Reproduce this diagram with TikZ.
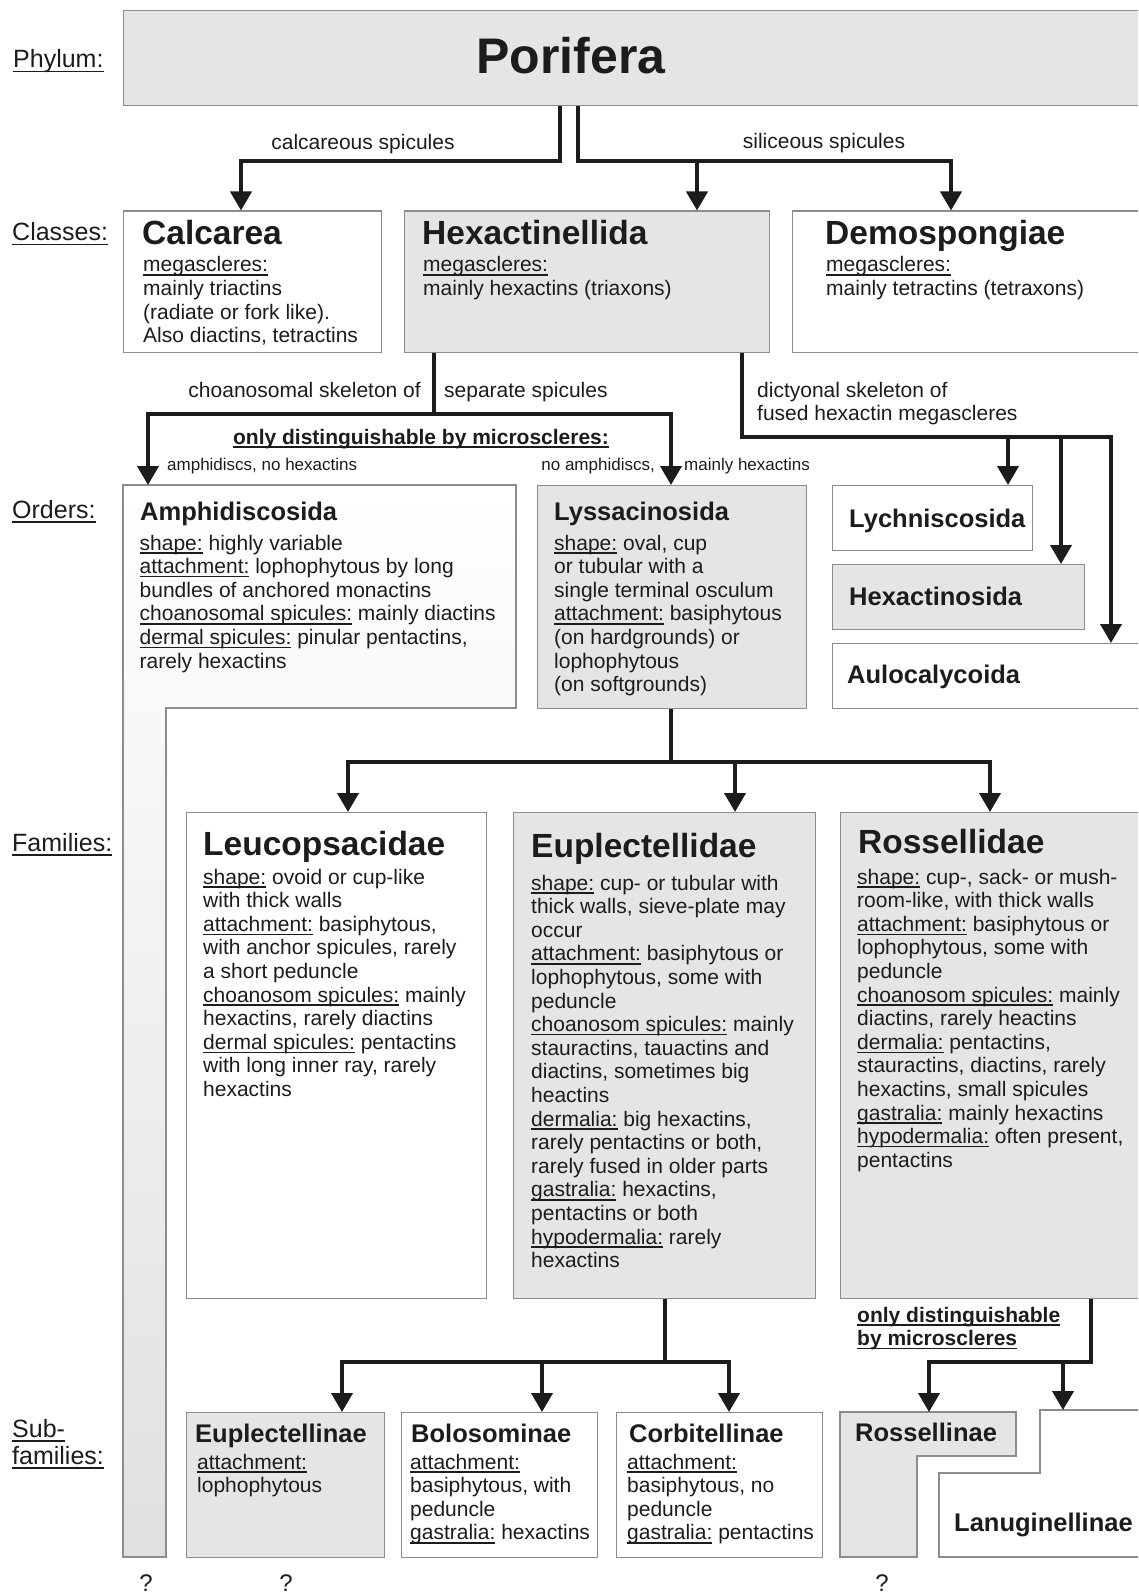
\documentclass[tikz,border=0pt]{standalone}
\usepackage{fontspec}
\setmainfont{Liberation Sans}
\usetikzlibrary{arrows.meta}

\definecolor{ink}{HTML}{1C1C1C}
\definecolor{edge}{HTML}{8C8C8C}
\definecolor{boxgray}{HTML}{E5E5E5}

% underline at a fixed depth below the baseline
\newsavebox\ulbox
\newcommand\ulin[1]{\sbox\ulbox{#1}\rlap{\vrule height -0.11em depth 0.18em width \wd\ulbox}\usebox\ulbox}
% several left-aligned lines, baseline on the first one
\newcommand\txtlines[1]{\begin{tabular}[t]{@{}l@{}}#1\end{tabular}}

\newcommand\fsTop{\fontsize{50}{56}\bfseries\selectfont}
\newcommand\fsTitle{\fontsize{33.5}{38}\bfseries\selectfont}
\newcommand\fsOrder{\fontsize{25.5}{29}\bfseries\selectfont}
\newcommand\fsBody{\fontsize{21}{23.6}\selectfont}
\newcommand\fsBold{\fontsize{21}{23.6}\bfseries\selectfont}
\newcommand\fsSmall{\fontsize{17}{20}\selectfont}
\newcommand\fsLabel{\fontsize{25}{28}\selectfont}
\newcommand\fsQ{\fontsize{24}{28}\selectfont}

\begin{document}
\begin{tikzpicture}[x=1pt,y=-1pt,
  every node/.style={inner sep=0pt, text=ink},
  wbox/.style={draw=edge, line width=1.3pt, fill=white, anchor=north west, inner sep=0pt},
  gbox/.style={wbox, fill=boxgray},
  shapeline/.style={draw=edge, line width=1.3pt, line join=miter},
  link/.style={draw=ink, line width=4pt, line join=miter, line cap=butt},
  arr/.style={link, -{Triangle[width=21pt,length=19pt]}},
  arrs/.style={link, {Triangle[width=21pt,length=19pt]}-{Triangle[width=21pt,length=19pt]}},
  lbl/.style={anchor=base west, font=\fsLabel},
  ttl/.style={anchor=base west, font=\fsTitle},
  ord/.style={anchor=base west, font=\fsOrder},
  txt/.style={anchor=base west, font=\fsBody},
  note/.style={font=\fsBody},
  small/.style={font=\fsSmall},
  qmark/.style={anchor=base, font=\fsQ}
]
\useasboundingbox (0,0) rectangle (1138,1594);
\clip (0,0) rectangle (1138,1594);

% ---------- boxes ----------
\node[gbox, minimum width=1040pt, minimum height=95pt] (pori) at (123,10) {};

\node[wbox, minimum width=258pt, minimum height=141.5pt] (calc) at (123,210.5) {};
\node[gbox, minimum width=365pt, minimum height=141.5pt] (hexa) at (404,210.5) {};
\node[wbox, minimum width=368pt, minimum height=141.5pt] (demo) at (792,210.5) {};

% Amphidiscosida: L-shaped box reaching down to the bottom row
\shade[top color=white, bottom color=boxgray!95!gray] (123,485) -- (516,485) -- (516,708) -- (166,708) -- (166,1557) -- (123,1557) -- cycle;
\draw[shapeline] (123,485) -- (516,485) -- (516,708) -- (166,708) -- (166,1557) -- (123,1557) -- cycle;
\coordinate (amphtop) at (148,485);

\node[gbox, minimum width=269pt, minimum height=223pt] (lyss) at (537,485) {};
\node[wbox, minimum width=200pt, minimum height=65pt] (lych) at (832,485) {};
\node[gbox, minimum width=252pt, minimum height=65pt] (hexo) at (832,564) {};
\node[wbox, minimum width=328pt, minimum height=65pt] (aulo) at (832,643) {};

\node[wbox, minimum width=300pt, minimum height=486pt] (leuc) at (186,812) {};
\node[gbox, minimum width=302pt, minimum height=486pt] (eupl) at (513,812) {};
\node[gbox, minimum width=320pt, minimum height=486pt] (ross) at (840,812) {};

\node[gbox, minimum width=198pt, minimum height=145pt] (eupn) at (186,1412) {};
\node[wbox, minimum width=196pt, minimum height=145pt] (bolo) at (401,1412) {};
\node[wbox, minimum width=206pt, minimum height=145pt] (corb) at (616,1412) {};

% Rossellinae and Lanuginellinae: stepped boxes
\filldraw[shapeline, fill=boxgray] (840,1412) -- (1016,1412) -- (1016,1456) -- (917,1456) -- (917,1557) -- (840,1557) -- cycle;
\filldraw[shapeline, fill=white] (1040,1410) -- (1160,1410) -- (1160,1557) -- (939,1557) -- (939,1473) -- (1040,1473) -- cycle;
\coordinate (rossntop) at (929,1412);
\coordinate (lanutop) at (1063,1410);

% ---------- connectors ----------
\draw[arr] (pori.south -| 560,0) |- (241,161) -- (calc.north -| 241,0);
\draw[arr] (pori.south -| 578,0) |- (951,161) -- (demo.north -| 951,0);
\draw[arr] (697,161) -- (hexa.north -| 697,0);

\draw[link] (hexa.south -| 434,0) -- (434,414);
\draw[arrs] (amphtop) -- (148,414) -- (671,414) -- (lyss.north -| 671,0);

\draw[arr] (hexa.south -| 742,0) |- (1111,437) -- (aulo.north -| 1111,0);
\draw[arr] (1008,437) -- (lych.north -| 1008,0);
\draw[arr] (1061,437) -- (hexo.north -| 1061,0);

\draw[link] (lyss.south -| 671,0) -- (671,762);
\draw[arrs] (leuc.north -| 348,0) -- (348,762) -- (990,762) -- (ross.north -| 990,0);
\draw[arr] (735,762) -- (eupl.north -| 735,0);

\draw[link] (eupl.south -| 665,0) -- (665,1362);
\draw[arrs] (eupn.north -| 342,0) -- (342,1362) -- (729,1362) -- (corb.north -| 729,0);
\draw[arr] (542,1362) -- (bolo.north -| 542,0);

\draw[arr] (ross.south -| 1091,0) |- (929,1362) -- (rossntop);
\draw[arr] (1063,1362) -- (lanutop);

% ---------- rank labels ----------
\node[lbl] (lphy) at (13,68) {\ulin{Phylum:}};
\node[lbl] (lcla) at (12,241) {\ulin{Classes:}};
\node[lbl] (lord) at (12,518) {\ulin{Orders:}};
\node[lbl] (lfam) at (12,851) {\ulin{Families:}};
\node[lbl] (lsub) at (12,1437) {\ulin{Sub-}};
\node[lbl] (lsub2) at (12,1464) {\ulin{families:}};

% ---------- connector texts ----------
\node[note, anchor=base] (ncal) at (363,150) {calcareous spicules};
\node[note, anchor=base] (nsil) at (824,149) {siliceous spicules};
\node[note, anchor=base east] (ncho) at (421,397) {choanosomal skeleton of};
\node[note, anchor=base west] (nsep) at (444,397) {separate spicules};
\node[anchor=base, font=\fsBold] (nmic) at (421,444) {\ulin{only distinguishable by microscleres:}};
\node[small, anchor=base west] (namp) at (167,470) {amphidiscs, no hexactins};
\node[small, anchor=base east] (nnoa) at (655,470) {no amphidiscs,};
\node[small, anchor=base west] (nmai) at (684,470) {mainly hexactins};
\node[note, anchor=base west] (ndic) at (757,397) {\txtlines{dictyonal skeleton of\\fused hexactin megascleres}};
\node[anchor=base west, font=\fsBold] (nros) at (857,1322) {\txtlines{\ulin{only distinguishable}\\\ulin{by microscleres}}};

% ---------- phylum and classes ----------
\node[anchor=base, font=\fsTop] (tpori) at (571,74) {Porifera};

\node[ttl] (tcalc) at (142,245) {Calcarea};
\node[txt] (bcalc) at (143,272) {\txtlines{\ulin{megascleres:}\\mainly triactins\\(radiate or fork like).\\Also diactins, tetractins}};
\node[ttl] (thexa) at (422,245) {Hexactinellida};
\node[txt] (bhexa) at (423,272) {\txtlines{\ulin{megascleres:}\\mainly hexactins (triaxons)}};
\node[ttl] (tdemo) at (825,245) {Demospongiae};
\node[txt] (bdemo) at (826,272) {\txtlines{\ulin{megascleres:}\\mainly tetractins (tetraxons)}};

% ---------- orders ----------
\node[ord] (tamph) at (140,520) {Amphidiscosida};
\node[txt] (bamph) at (139.5,550) {\txtlines{\ulin{shape:} highly variable\\\ulin{attachment:} lophophytous by long\\bundles of anchored monactins\\\ulin{choanosomal spicules:} mainly diactins\\\ulin{dermal spicules:} pinular pentactins,\\rarely hexactins}};
\node[ord] (tlyss) at (554,520) {Lyssacinosida};
\node[txt] (blyss) at (554,550) {\txtlines{\ulin{shape:} oval, cup\\or tubular with a\\single terminal osculum\\\ulin{attachment:} basiphytous\\(on hardgrounds) or\\lophophytous\\(on softgrounds)}};
\node[ord] (tlych) at (849,527) {Lychniscosida};
\node[ord] (thexo) at (849,605) {Hexactinosida};
\node[ord] (taulo) at (847,683) {Aulocalycoida};

% ---------- families ----------
\node[ttl] (tleuc) at (203,855) {Leucopsacidae};
\node[txt] (bleuc) at (203,884) {\txtlines{\ulin{shape:} ovoid or cup-like\\with thick walls\\\ulin{attachment:} basiphytous,\\with anchor spicules, rarely\\a short peduncle\\\ulin{choanosom spicules:} mainly\\hexactins, rarely diactins\\\ulin{dermal spicules:} pentactins\\with long inner ray, rarely\\hexactins}};
\node[ttl] (teupl) at (531,857) {Euplectellidae};
\node[txt] (beupl) at (531,890) {\txtlines{\ulin{shape:} cup- or tubular with\\thick walls, sieve-plate may\\occur\\\ulin{attachment:} basiphytous or\\lophophytous, some with\\peduncle\\\ulin{choanosom spicules:} mainly\\stauractins, tauactins and\\diactins, sometimes big\\heactins\\\ulin{dermalia:} big hexactins,\\rarely pentactins or both,\\rarely fused in older parts\\\ulin{gastralia:} hexactins,\\pentactins or both\\\ulin{hypodermalia:} rarely\\hexactins}};
\node[ttl] (tross) at (858,853) {Rossellidae};
\node[txt] (bross) at (857,884) {\txtlines{\ulin{shape:} cup-, sack- or mush-\\room-like, with thick walls\\\ulin{attachment:} basiphytous or\\lophophytous, some with\\peduncle\\\ulin{choanosom spicules:} mainly\\diactins, rarely heactins\\\ulin{dermalia:} pentactins,\\stauractins, diactins, rarely\\hexactins, small spicules\\\ulin{gastralia:} mainly hexactins\\\ulin{hypodermalia:} often present,\\pentactins}};

% ---------- sub-families ----------
\node[ord] (teupn) at (195,1442) {Euplectellinae};
\node[txt] (beupn) at (197,1469) {\txtlines{\ulin{attachment:}\\lophophytous}};
\node[ord] (tbolo) at (411,1442) {Bolosominae};
\node[txt] (bbolo) at (410,1469) {\txtlines{\ulin{attachment:}\\basiphytous, with\\peduncle\\\ulin{gastralia:} hexactins}};
\node[ord] (tcorb) at (629,1442) {Corbitellinae};
\node[txt] (bcorb) at (627,1469) {\txtlines{\ulin{attachment:}\\basiphytous, no\\peduncle\\\ulin{gastralia:} pentactins}};
\node[ord] (trossn) at (855,1441) {Rossellinae};
\node[ord] (tlanu) at (954,1531) {Lanuginellinae};

% ---------- open questions ----------
\node[qmark] (q1) at (146,1591) {?};
\node[qmark] (q2) at (286,1591) {?};
\node[qmark] (q3) at (882,1591) {?};
\end{tikzpicture}
\end{document}
